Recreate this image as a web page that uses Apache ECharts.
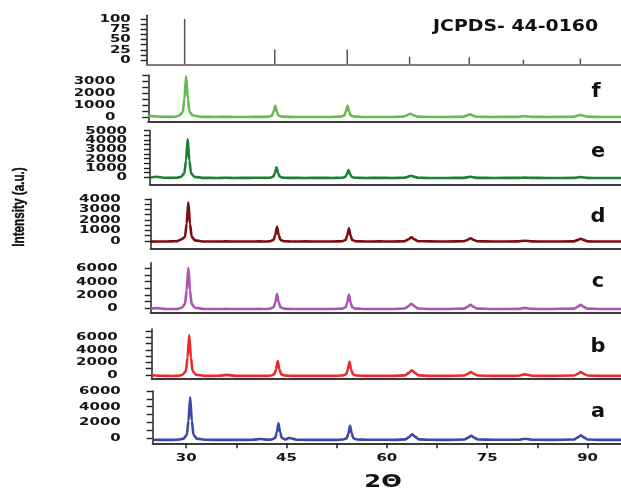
<!DOCTYPE html>
<html><head><meta charset="utf-8">
<script src="https://cdn.jsdelivr.net/npm/echarts@6/dist/echarts.min.js"></script>
<style>html,body{margin:0;padding:0;background:#fff}#c{width:621px;height:490px}</style>
</head><body><div id="c"></div>
<script>
// ---------- DATA ----------
const twoTheta = [25,26,27,28,29,29.6,30.1,30.35,30.6,30.85,31.1,31.6,33,35,36.2,37.5,40,41.1,42.3,
  42.8,43.3,43.55,43.8,44.05,44.3,44.8,45.4,46.5,48,50,52,53.5,54.0,54.25,54.5,54.75,55.0,55.5,
  57,59,61,62.8,63.3,63.8,64.3,64.8,66.5,69,71.6,72.1,72.6,73.1,73.6,76,79.7,80.7,81.7,84,
  88,88.5,89.0,89.5,90,92,95];

const intensityF = [120,80,50,40,50,150,440,1560,3400,1560,440,150,40,30,40,30,30,40,40,
  60,140,450,960,450,140,60,50,30,30,30,30,60,140,450,960,450,140,60,
  30,30,30,57,165,300,165,57,30,30,50,137,245,137,50,30,40,90,40,30,
  47,115,200,115,47,30,30];

const intensityE = [-40,60,-40,-60,-50,50,425,1805,4100,1805,425,50,-60,-70,-50,-70,-60,-50,-60,
  -41,62,440,1070,440,62,-41,-60,-60,-70,-60,-70,-49,28,310,780,310,28,-49,
  -70,-60,-70,-50,47,170,47,-50,-70,-70,-62,-8,60,-8,-62,-70,-60,-30,-60,-70,
  -65,-22,30,-22,-65,-70,-70];

const intensityD = [-60,-50,-50,-40,-10,160,390,1630,3690,1630,390,60,-50,-50,-40,-50,-50,-40,-50,
  -17,110,580,1360,580,110,-17,-40,-50,-40,-50,-50,-22,92,512,1210,512,92,-22,
  -50,-40,-50,-19,145,350,145,-19,-40,-50,-28,100,260,100,-28,-50,-40,30,-40,-50,
  -32,80,220,80,-32,-50,-50];

const intensityC = [-50,20,-100,-110,-100,67,626,2680,6100,2680,626,67,-110,-110,-100,-110,-110,-100,-110,
  -52,151,897,2140,897,151,-52,-100,-110,-110,-110,-110,-56,138,848,2030,848,138,-56,
  -110,-110,-110,-43,265,650,265,-43,-110,-110,-58,190,500,190,-58,-110,-100,50,-100,-110,
  -58,190,500,190,-58,-110,-110];

const intensityB = [-50,-120,-140,-150,-130,46,632,2784,6370,2784,632,46,-140,-130,20,-140,-140,-130,-140,
  -79,136,921,2230,921,136,-79,-130,-140,-140,-130,-140,-82,122,872,2120,872,122,-82,
  -140,-140,-140,-60,300,750,300,-60,-140,-140,-87,165,480,165,-87,-140,-130,100,-130,-140,
  -87,165,480,165,-87,-140,-140];

const intensityA = [-220,-240,-240,-240,-200,-86,404,2202,5200,2202,404,-86,-230,-240,-230,-240,-230,-130,-220,
  -186,6,708,1880,708,6,-186,0,-220,-240,-230,-240,-195,-32,569,1570,569,-32,-195,
  -230,-220,-240,-178,110,470,110,-178,-230,-240,-196,20,290,20,-196,-230,-220,-90,-220,-240,
  -191,45,340,45,-191,-240,-240];

const jcpdsPos = [30.6,43.9,54.6,63.8,72.6,80.6,89.0];
const jcpdsInt = [100,26,26,8,7,1,4];

const sampleLabels = ['f','e','d','c','b','a'];
const jcpdsTickLabels = [0,25,50,75,100];
const fTickLabels = [0,1000,2000,3000];
const eTickLabels = [0,1000,2000,3000,4000,5000];
const dTickLabels = [0,1000,2000,3000,4000];
const cTickLabels = [0,2000,4000,6000];
const bTickLabels = [0,2000,4000,6000];
const aTickLabels = [0,2000,4000,6000];
const xTickLabels = [30,45,60,75,90];
const xMinorTicks = [30,37.5,45,52.5,60,67.5,75,82.5,90];
const cardTitle = 'JCPDS- 44-0160';
const xTitle = '2Θ';
const yTitle = 'Intensity (a.u.)';

// ---------- LAYOUT / STYLE ----------
function steps(a,b,s){const r=[];for(let v=a;v<=b+1e-9;v+=s)r.push(v);return r;}
const panels = [
  {left:146.7, top:15.3, height:49.2, min:-10.8, max:109, margin:16, labels:jcpdsTickLabels, ticks:steps(0,100,12.5), axisW:1.5},
  {left:148.3, top:75, height:46.3, min:-330, max:3500, margin:33, labels:fTickLabels, ticks:steps(0,3500,500), axisW:2.2, data:intensityF, color:'#62bd4c'},
  {left:150, top:130.7, height:53.8, min:-772, max:5000, margin:23, labels:eTickLabels, ticks:steps(0,5000,500), axisW:2.2, data:intensityE, color:'#1f7f35'},
  {left:150.7, top:199, height:50, min:-762, max:4000, margin:30, labels:dTickLabels, ticks:steps(0,4000,500), axisW:2.2, data:intensityD, color:'#7a0d10'},
  {left:150.7, top:262.7, height:49.6, min:-611, max:6855, margin:33, labels:cTickLabels, ticks:steps(0,6000,1000), axisW:2.2, data:intensityC, color:'#b052b4'},
  {left:151.7, top:329, height:49.5, min:-557, max:7320, margin:34, labels:bTickLabels, ticks:steps(0,7000,1000), axisW:2.2, data:intensityB, color:'#ea2a2c'},
  {left:152.7, top:391, height:52.3, min:-677, max:6000, margin:32, labels:aTickLabels, ticks:steps(0,6000,1000), axisW:2.2, data:intensityA, color:'#3a48a6'}
];
const xMin = 25, xMax = 95, pxPerDeg = 6.84;
const letterPos = [[596,92],[598,152],[598,217],[598,282],[598,347],[598,412]];
const TICK_FONT = 'bold 11px "DejaVu Sans"';
const TICK_SCALE = 1.36;

const grid = [], xAxis = [], yAxis = [], series = [];
panels.forEach((p,i)=>{
  const last = i === panels.length-1;
  grid.push({left:p.left, top:p.top, height:p.height, width:(xMax-xMin)*pxPerDeg, containLabel:false});
  xAxis.push({type:'value', gridIndex:i, min:xMin, max:xMax,
    axisLine:{show:true, onZero:false, lineStyle:{color:i===0?'#555':'#3c3c3c', width:p.axisW}},
    splitLine:{show:false},
    axisTick:{show:last, customValues:xMinorTicks, inside:false, length:5, lineStyle:{color:'#222', width:1.5}},
    axisLabel:{show:false}
  });
  yAxis.push({type:'value', gridIndex:i, min:p.min, max:p.max,
    axisLine:{show:true, onZero:false, lineStyle:{color:'#222', width:1.5}},
    splitLine:{show:false},
    axisTick:{show:true, customValues:p.ticks, length:6, lineStyle:{color:'#222', width:1.4}},
    axisLabel:{show:false}
  });
  if (i === 0) {
    jcpdsPos.forEach((x,k)=>{
      series.push({type:'line', xAxisIndex:0, yAxisIndex:0, showSymbol:false, silent:true,
        lineStyle:{color:'#555', width:1.5}, data:[[x,p.min],[x,jcpdsInt[k]]]});
    });
  } else {
    series.push({type:'line', name:sampleLabels[i-1], xAxisIndex:i, yAxisIndex:i, showSymbol:false,
      smooth:0.25, smoothMonotone:'x',
      lineStyle:{color:p.color, width:2.6}, data:twoTheta.map((x,k)=>[x,p.data[k]])});
  }
});

const graphic = [
  {type:'text', x:433, y:27, scaleX:1.18, style:{text:cardTitle, font:'bold 16px "DejaVu Sans"', fill:'#111', verticalAlign:'middle'}},
  {type:'text', x:19, y:207, rotation:Math.PI/2, scaleX:0.69, style:{text:yTitle, font:'bold 17px "Liberation Sans"', fill:'#0d0d0d', stroke:'#0d0d0d', lineWidth:0.4, align:'center', verticalAlign:'middle'}},
  {type:'text', x:383, y:482, scaleX:1.35, style:{text:xTitle, font:'bold 18px "DejaVu Sans"', fill:'#111', align:'center', verticalAlign:'middle'}}
];
sampleLabels.forEach((t,i)=>{
  graphic.push({type:'text', x:letterPos[i][0], y:letterPos[i][1], scaleX:1.1, style:{text:t, font:'bold 19px "DejaVu Sans"', fill:'#111', align:'center', verticalAlign:'middle'}});
});

const chart = echarts.init(document.getElementById('c'), null, {renderer:'canvas'});
chart.setOption({animation:false, backgroundColor:'#fff', grid, xAxis, yAxis, series, graphic});

// tick labels placed through the axes' own scales
const labelGraphics = [];
panels.forEach((p,i)=>{
  p.labels.forEach(v=>{
    const pt = chart.convertToPixel({gridIndex:i}, [xMin, v]);
    labelGraphics.push({type:'text', x:pt[0]-p.margin, y:pt[1], scaleX:TICK_SCALE,
      style:{text:String(v), font:TICK_FONT, fill:'#161616', align:'right', verticalAlign:'middle'}});
  });
});
const lastIdx = panels.length-1;
xTickLabels.forEach(v=>{
  const pt = chart.convertToPixel({gridIndex:lastIdx}, [v, panels[lastIdx].min]);
  labelGraphics.push({type:'text', x:pt[0], y:pt[1]+15, scaleX:TICK_SCALE,
    style:{text:String(v), font:TICK_FONT, fill:'#161616', align:'center', verticalAlign:'middle'}});
});
chart.setOption({graphic: graphic.concat(labelGraphics)});
</script></body></html>
